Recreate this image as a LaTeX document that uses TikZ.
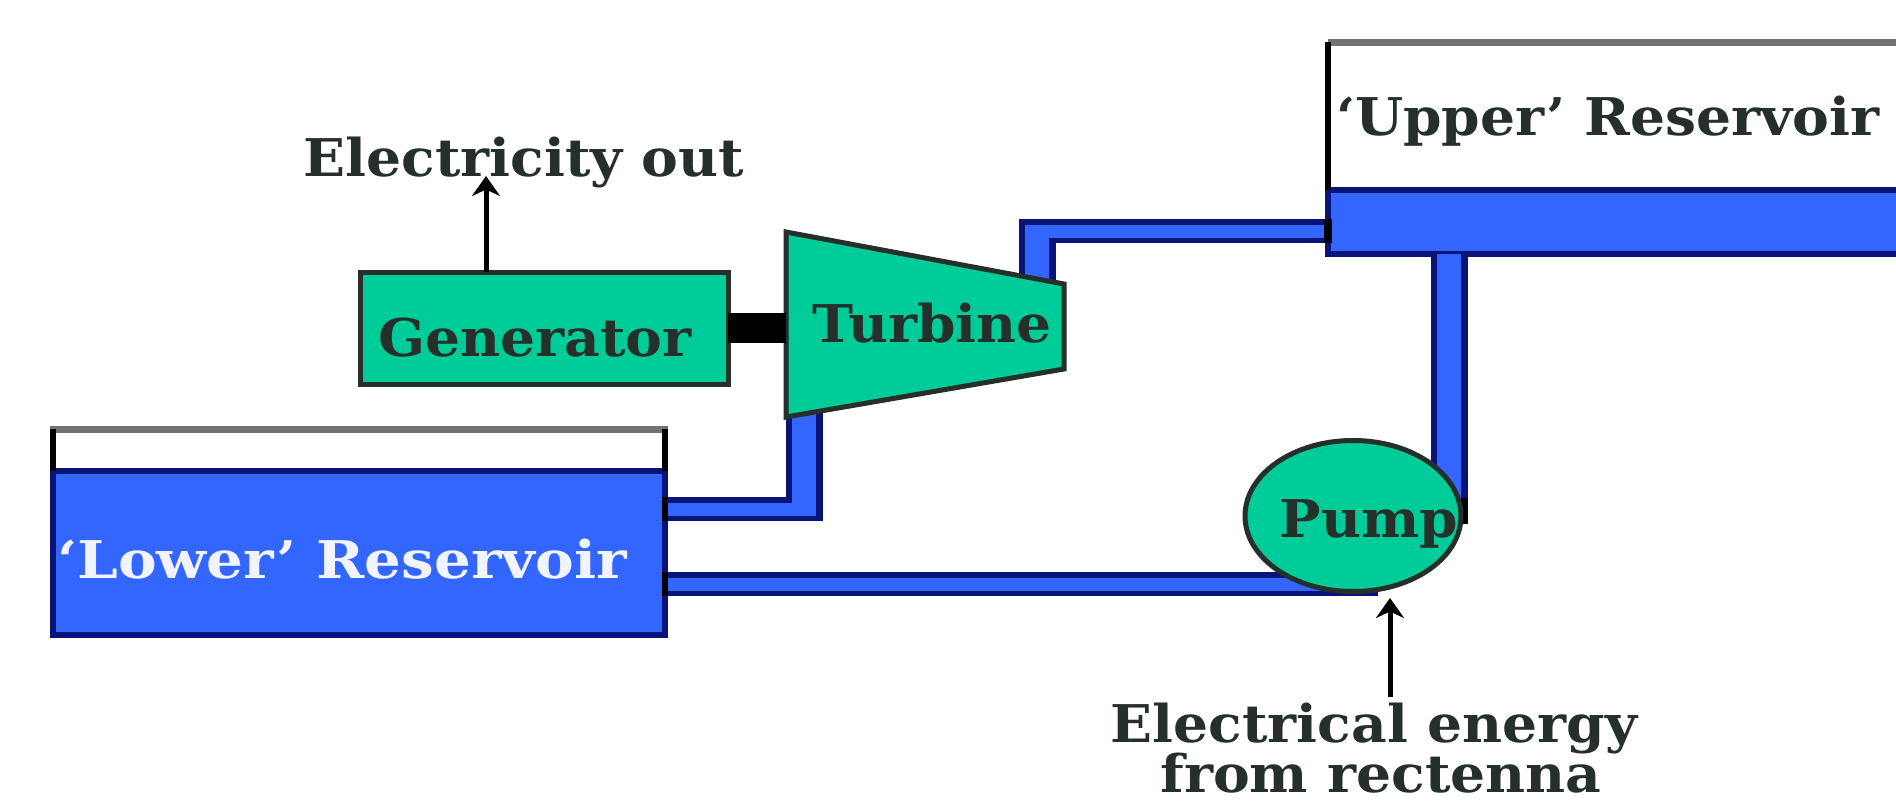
\documentclass[tikz,border=0pt]{standalone}
\usepackage{fontspec}
\setmainfont[FakeStretch=1.06]{DejaVu Serif Bold}
\newfontfamily\widerserif[FakeStretch=1.115]{DejaVu Serif Bold}
\usetikzlibrary{arrows.meta,calc,shapes.geometric}
\definecolor{waterblue}{HTML}{3366FF}
\definecolor{pipenavy}{HTML}{0A1478}
\definecolor{machinegreen}{HTML}{00CC99}
\definecolor{inkdark}{HTML}{26302A}
\tikzset{
  every node/.append style={outer sep=0pt},
  hcase/.style={draw=pipenavy,line width=24pt},
  vcase/.style={draw=pipenavy,line width=37pt},
  hcore/.style={draw=waterblue,line width=13pt},
  vcore/.style={draw=waterblue,line width=24pt},
  label/.style={font=\fontsize{52}{56}\selectfont,text=inkdark,inner sep=0pt},
  machine/.style={draw=inkdark,line width=5pt,fill=machinegreen,inner sep=0pt},
  water/.style={draw=pipenavy,line width=6pt,fill=waterblue,inner sep=0pt},
  feed/.style={draw=black,line width=5pt,-{Stealth[length=20pt,width=28pt]}},
}
\newcommand{\elbow}[3]{%
  \draw[hcase,shorten >=-18.5pt] (#1) -- (#2);
  \draw[vcase,shorten <=-12pt] (#2) -- (#3);
  \draw[hcore,shorten >=-12pt] (#1) -- (#2);
  \draw[vcore,shorten <=-6.5pt] (#2) -- (#3);
}
\begin{document}
\begin{tikzpicture}[x=1pt,y=-1pt]
\useasboundingbox (0,0) rectangle (1896,803);
\clip (0,0) rectangle (1896,803);
\fill[white] (0,0) rectangle (1896,803);

% reservoirs
\node[fill=white,minimum width=612pt,minimum height=42pt,inner sep=0pt] (lowertank) at (359,450) {};
\node[water,minimum width=612pt,minimum height=164pt] (lower) at (359,553) {};
\node[water,minimum width=660pt,minimum height=64pt] (upper) at (1658,222) {};
\coordinate (uppertl) at (1328,42);
\coordinate (uppertr) at (1990,42);
\draw[draw=gray!90!black,line width=7pt] ([xshift=-3pt]lowertank.north west) -- ([xshift=3pt]lowertank.north east);
\draw[draw=black,line width=6pt] (lowertank.north west) -- (lower.north west);
\draw[draw=black,line width=6pt] (lowertank.north east) -- (lower.north east);
\draw[draw=gray!90!black,line width=7pt] (uppertl) -- (uppertr);
\draw[draw=black,line width=6pt] (uppertl) -- (upper.north west);

% turbine outline points
\coordinate (tA) at (786,232);
\coordinate (tB) at (1064,284);
\coordinate (tC) at (1064,369);
\coordinate (tD) at (786,417);

% pipes
\coordinate (lowerout) at (665,509);
\coordinate (lowerbend) at (804,509);
\coordinate (turbinein) at (804,410);
\elbow{lowerout}{lowerbend}{turbinein}
\coordinate (upperin) at (1328,231);
\coordinate (upperbend) at (1037,231);
\coordinate (turbineout) at (1037,290);
\elbow{upperin}{upperbend}{turbineout}
\coordinate (lowerpumpout) at (665,584);
\coordinate (pumpin) at (1378,584);
\draw[hcase] (lowerpumpout) -- (pumpin);
\draw[hcore] (lowerpumpout) -- (pumpin);
\coordinate (upperdrop) at (1449,254);
\coordinate (pumpout) at (1449,524);
\draw[vcase] (upperdrop) -- (pumpout);
\draw[vcore] (upperdrop) -- ([yshift=8pt]pumpout);
\draw[draw=black,line width=6pt] (lowerout) ++(0,-12) -- ++(0,24);
\draw[draw=black,line width=6pt] (lowerpumpout) ++(0,-12) -- ++(0,24);
\draw[draw=black,line width=8pt] (upperin) ++(0,-12) -- ++(0,24);

% machines
\node[machine,minimum width=368pt,minimum height=112pt] (generator) at (544,328) {};
\draw[machine] (tA) -- (tB) -- (tC) -- (tD) -- cycle;
\draw[draw=black,line width=10pt] (1463,498) -- (1463,524);
\node[machine,ellipse,minimum width=216pt,minimum height=151pt] (pump) at (1353,516) {};
\coordinate (shaftin) at (786,328);
\draw[draw=black,line width=30pt] (generator.east) -- (shaftin);

% labels
\node[label,anchor=base] (electext) at (524,176) {Electricity out};
\coordinate (genout) at (486,272);
\draw[feed] (genout) -- (486,176);
\node[label,anchor=base] at (535,356) {Generator};
\node[label,anchor=base] at (932,342) {Turbine};
\node[label,anchor=base] at (1369,537) {Pump};
\node[label,anchor=base,text=white!93!waterblue] at (342,578) {\widerserif ‘Lower’ Reservoir};
\node[label,anchor=base west] at (1336,135) {‘Upper’ Reservoir};
\node[label,anchor=base] (energytext) at (1374,742) {Electrical energy};
\node[label,anchor=base] at (1381,792) {from rectenna};
\coordinate (energyfoot) at (1390,697);
\draw[feed] (energyfoot) -- (1390,598);
\end{tikzpicture}
\end{document}
